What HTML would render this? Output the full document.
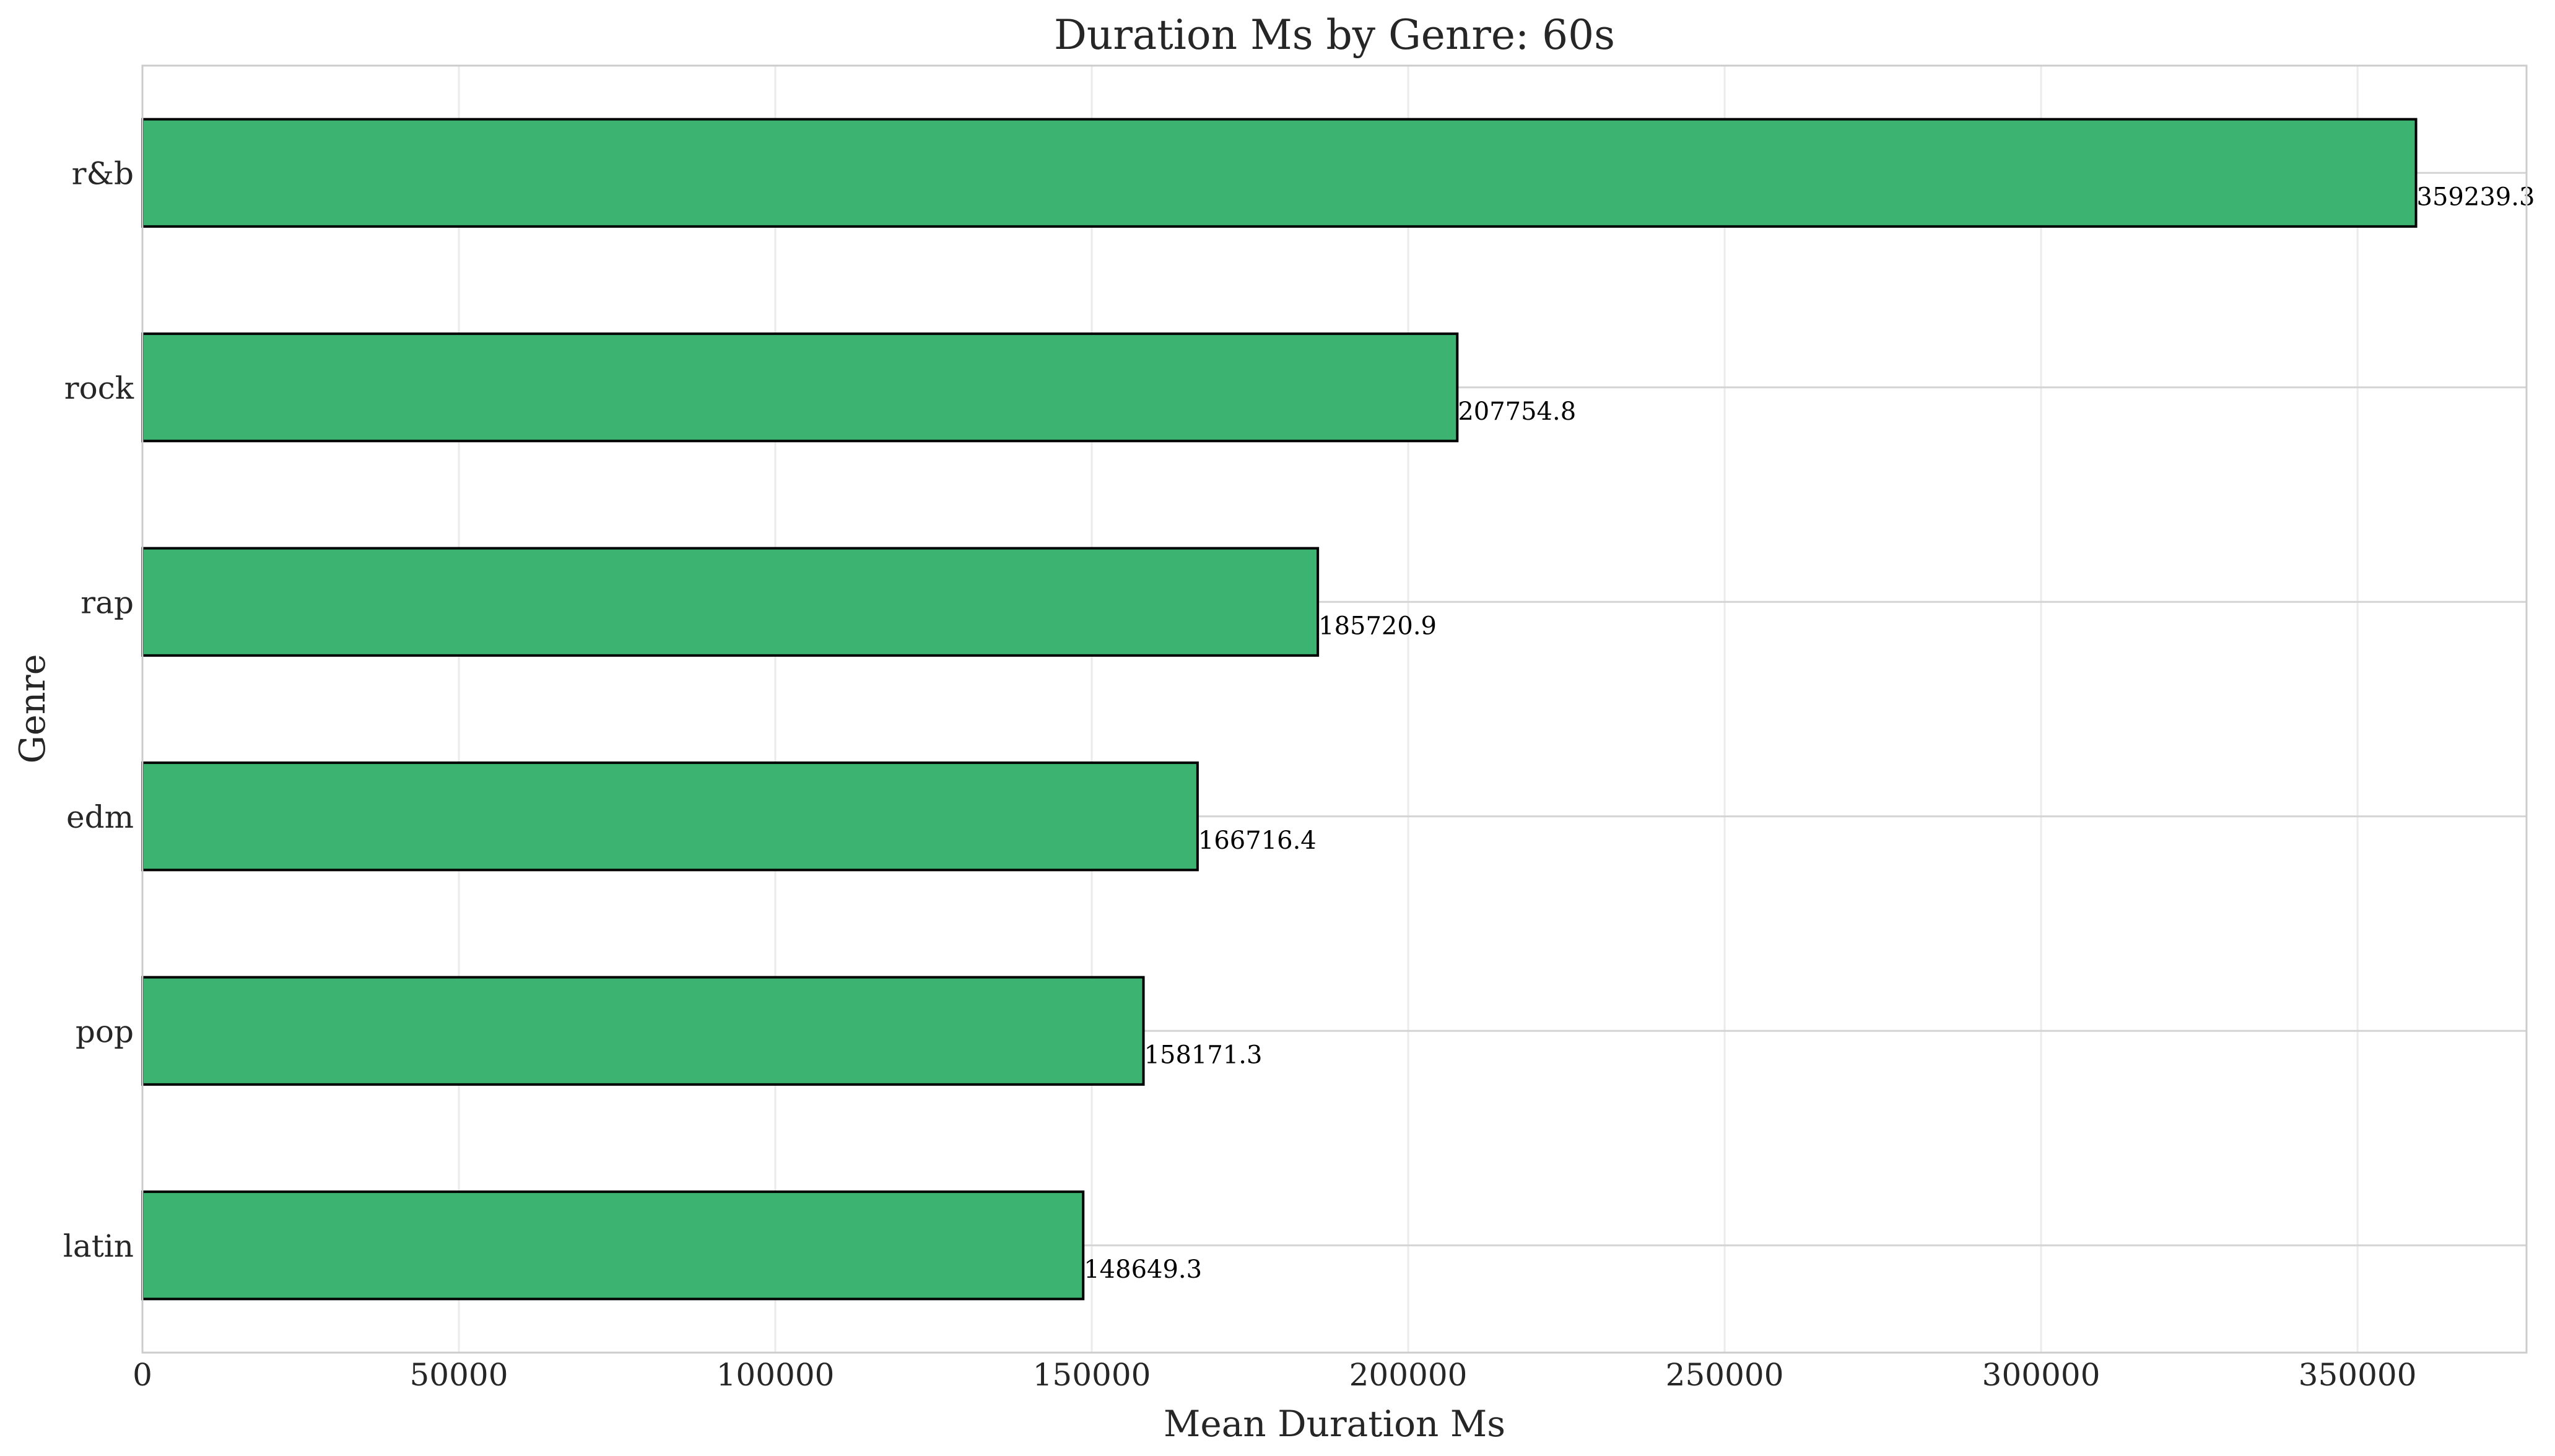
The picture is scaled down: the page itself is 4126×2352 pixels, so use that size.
<!DOCTYPE html>
<html><head><meta charset="utf-8"><style>
html,body{margin:0;padding:0;background:#fff}
svg{display:block;font-family:"DejaVu Serif","Liberation Serif",serif}
</style></head><body>
<svg id="chart" width="4126" height="2352" viewBox="0 0 4126 2352" xmlns="http://www.w3.org/2000/svg">
<rect width="4126" height="2352" fill="#fff"/>
<g id="grid"></g>
<g id="bars"></g>
<g id="labels"></g>
<g id="ticks"></g>
<rect x="230" y="106" width="3850" height="2079" fill="none" stroke="#cccccc" stroke-width="3"/>
<text x="2155" y="79" font-size="66" text-anchor="middle" fill="#262626">Duration Ms by Genre: 60s</text>
<text x="2155" y="2320" font-size="58" text-anchor="middle" fill="#262626">Mean Duration Ms</text>
<text x="0" y="0" font-size="57" text-anchor="middle" fill="#262626" transform="translate(72,1145) rotate(-90)">Genre</text>
</svg>
<script>
const categories = ["r&b","rock","rap","edm","pop","latin"];
const values = [359239.3,207754.8,185720.9,166716.4,158171.3,148649.3];
const valueLabels = ["359239.3","207754.8","185720.9","166716.4","158171.3","148649.3"];
const xTicks = [0,50000,100000,150000,200000,250000,300000,350000];
const xTickLabels = ["0","50000","100000","150000","200000","250000","300000","350000"];

const NS="http://www.w3.org/2000/svg";
const L=230,R=4080,T=106,B=2185;
const xMax=376700;
const x=v=>L+(v/xMax)*(R-L);
const step=(B-T)/categories.length;
const y=i=>T+step*(i+0.5);
const barH=step*0.5;
function mk(tag,attrs,parent){const e=document.createElementNS(NS,tag);for(const k in attrs)e.setAttribute(k,attrs[k]);parent.appendChild(e);return e;}
const grid=document.getElementById('grid'),bars=document.getElementById('bars'),labels=document.getElementById('labels'),ticks=document.getElementById('ticks');

xTicks.forEach((t,i)=>{
  const gl=mk('line',{x1:x(t),x2:x(t),y1:T,y2:B,stroke:'#ebebeb','stroke-width':3},grid);
  
  
  const tl=mk('text',{x:x(t),y:2238,'font-size':50,'text-anchor':'middle',fill:'#262626'},ticks);
  tl.textContent=xTickLabels[i];
  
  
});
categories.forEach((c,i)=>{
  const gl=mk('line',{x1:L,x2:R,y1:y(i),y2:y(i),stroke:'#d4d4d4','stroke-width':3},grid);
  
  
  const b=mk('rect',{x:L,y:y(i)-barH/2,width:x(values[i])-L,height:barH,fill:'#3cb371',stroke:'#000','stroke-width':4},bars);
  
  
  const vl=mk('text',{x:x(values[i])+1,y:y(i)+52,'font-size':40,fill:'#000'},labels);
  vl.textContent=valueLabels[i];
  
  
  const tl=mk('text',{x:216,y:y(i)+18,'font-size':50,'text-anchor':'end',fill:'#262626'},ticks);
  tl.textContent=c;
  
  
});
</script>
</body></html>
